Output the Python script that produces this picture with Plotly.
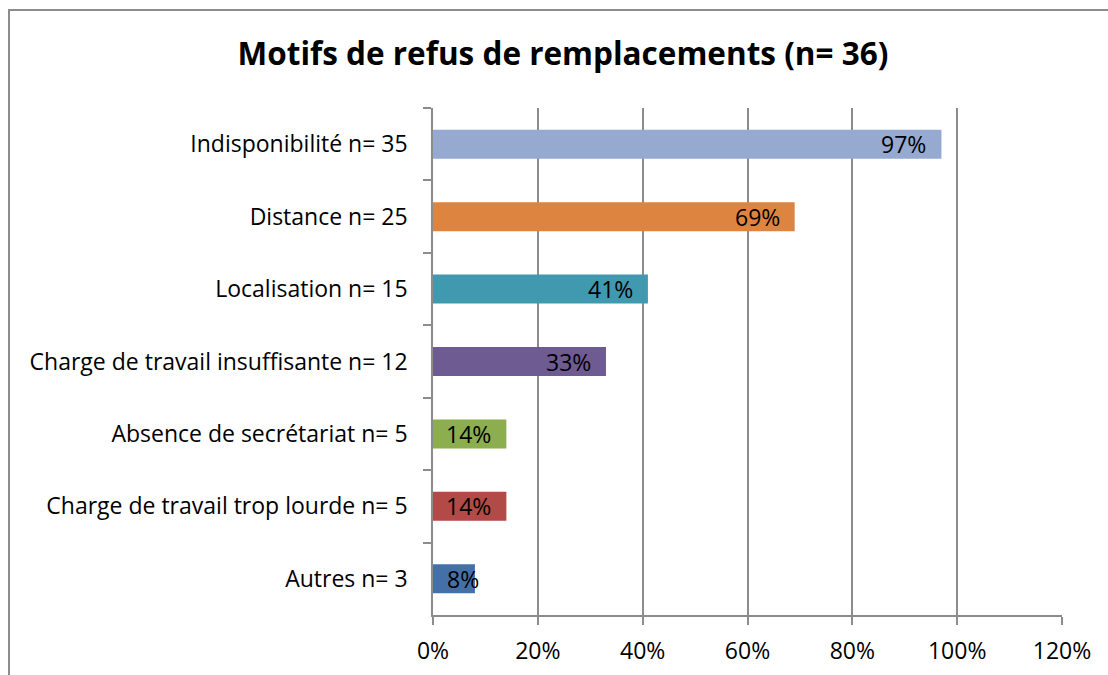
import plotly.graph_objects as go

categories = [
    "Indisponibilité n= 35",
    "Distance n= 25",
    "Localisation n= 15",
    "Charge de travail insuffisante n= 12",
    "Absence de secrétariat n= 5",
    "Charge de travail trop lourde n= 5",
    "Autres n= 3",
]
values = [97, 69, 41, 33, 14, 14, 8]
labels = ["97%", "69%", "41%", "33%", "14%", "14%", "8%"]
colors = ["#95A9D1", "#DD8440", "#4199AF", "#6E5B92", "#8CAE4E", "#B24A47", "#4470A8"]
tick_vals = [0, 20, 40, 60, 80, 100, 120]
tick_text = ["0%", "20%", "40%", "60%", "80%", "100%", "120%"]

FONT = "Open Sans, sans-serif"
GRID = "#8C8C8C"
FS = 23

fig = go.Figure()
fig.add_trace(go.Bar(
    x=values, y=categories, orientation="h",
    marker=dict(color=colors, line=dict(width=0)),
    width=0.4, hoverinfo="skip",
))

annotations = []
for cat, v, lab in zip(categories, values, labels):
    if v >= 10:
        annotations.append(dict(x=v, y=cat, xref="x", yref="y", text=lab,
                                showarrow=False, xanchor="right", xshift=-13,
                                font=dict(family=FONT, size=FS, color="black")))
    else:
        annotations.append(dict(x=0, y=cat, xref="x", yref="y", text=lab,
                                showarrow=False, xanchor="left", xshift=12,
                                font=dict(family=FONT, size=FS, color="black")))

W, H = 1108, 675
L, R, T, B = 433, 46, 108, 60
pw = W - L - R
ph = H - T - B

def px2x(px):
    return (px - L) / pw

def py2y(py):
    return (H - B - py) / ph

fig.update_layout(
    width=W, height=H,
    margin=dict(l=L, r=R, t=T, b=B, autoexpand=False),
    paper_bgcolor="white", plot_bgcolor="white",
    showlegend=False,
    font=dict(family=FONT, size=FS, color="black"),
    title=dict(text="<b>Motifs de refus de remplacements (n= 36)</b>",
               x=563 / W, xanchor="center", y=1 - 54 / H, yanchor="middle",
               font=dict(family=FONT, size=31.5, color="black")),
    xaxis=dict(range=[0, 120], tickvals=tick_vals, ticktext=tick_text,
               showgrid=True, gridcolor=GRID, gridwidth=1.5,
               showline=True, linecolor=GRID, linewidth=1.5,
               ticks="outside", ticklen=8, tickcolor=GRID, tickwidth=1.5,
               zeroline=False, fixedrange=True, automargin=False,
               ticklabelstandoff=7,
               tickfont=dict(family=FONT, size=FS, color="black")),
    yaxis=dict(autorange="reversed", type="category",
               showline=True, linecolor=GRID, linewidth=1.5,
               ticks="outside", ticklen=8, tickcolor=GRID, tickwidth=1.5,
               tickson="boundaries", showgrid=False, ticklabelstandoff=19,
               automargin=False, fixedrange=True,
               tickfont=dict(family=FONT, size=FS, color="black")),
    annotations=annotations,
    shapes=[
        dict(type="line", xref="paper", yref="paper",
             x0=px2x(9), x1=px2x(9), y0=py2y(9), y1=py2y(680),
             line=dict(color="#8C8C8C", width=2)),
        dict(type="line", xref="paper", yref="paper",
             x0=px2x(8), x1=px2x(1115), y0=py2y(10), y1=py2y(10),
             line=dict(color="#8C8C8C", width=2)),
    ],
)

fig.write_html("out.html", config={"displayModeBar": False},
               post_script="document.body.style.margin='0';")
